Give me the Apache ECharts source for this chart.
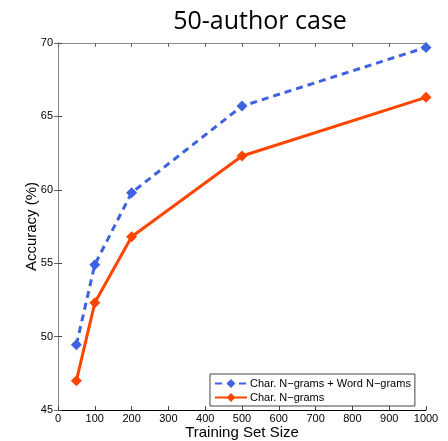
<!DOCTYPE html>
<html>
<head>
<meta charset="utf-8">
<script src="https://cdn.jsdelivr.net/npm/echarts@6/dist/echarts.min.js"></script>
<style>
  html, body { margin: 0; padding: 0; background: #fff; }
  #chart { width: 448px; height: 441px; }
</style>
</head>
<body>
<div id="chart"></div>
<script>
const trainingSizes = [50, 100, 200, 500, 1000]
const charWordAcc = [49.45, 54.9, 59.8, 65.7, 69.7]
const charAcc = [47.0, 52.3, 56.8, 62.3, 66.3]
const seriesNames = ['Char. N\u2212grams + Word N\u2212grams', 'Char. N\u2212grams']

const chart = echarts.init(document.getElementById('chart'))

const tickFont = { color: '#000', fontSize: 11, fontFamily: 'Liberation Sans', formatter: v => String(v) }
const toPairs = ys => trainingSizes.map((x, i) => [x, ys[i]])

const option = {
  animation: false,
  title: {
    text: '50-author case',
    left: 255,
    textAlign: 'center',
    top: 4,
    textStyle: { fontFamily: 'Open Sans', fontSize: 25, fontWeight: 'normal', color: '#000' }
  },
  grid: { left: 58, right: 22, top: 43, bottom: 31, outerBoundsMode: 'none' },
  legend: {
    orient: 'vertical',
    left: 210,
    top: 374,
    width: 211,
    padding: [4, 4, 3, 4],
    itemGap: 3,
    itemWidth: 32,
    itemHeight: 11,
    borderColor: '#444',
    borderWidth: 1,
    backgroundColor: '#fff',
    textStyle: { fontSize: 11, fontFamily: 'Liberation Sans', color: '#000', padding: [0, 0, 0, -2] },
    data: seriesNames
  },
  xAxis: [
    {
      type: 'value',
      min: 0,
      max: 1000,
      interval: 100,
      name: 'Training Set Size',
      nameLocation: 'middle',
      nameGap: 15,
      nameMoveOverlap: false,
      nameTextStyle: { fontSize: 15, fontFamily: 'Liberation Sans', color: '#000' },
      axisLine: { lineStyle: { color: '#000', width: 1 } },
      axisTick: { inside: true, length: 4, lineStyle: { color: '#444' } },
      axisLabel: Object.assign({ margin: 3 }, tickFont),
      splitLine: { show: false }
    },
    {
      type: 'value',
      position: 'top',
      min: 0,
      max: 1000,
      interval: 100,
      axisLine: { lineStyle: { color: '#888', width: 1 } },
      axisTick: { inside: true, length: 4, lineStyle: { color: '#666' } },
      axisLabel: { show: false },
      splitLine: { show: false }
    }
  ],
  yAxis: [
    {
      type: 'value',
      min: 45,
      max: 70,
      interval: 5,
      name: 'Accuracy (%)',
      nameLocation: 'middle',
      nameGap: 19,
      nameMoveOverlap: false,
      nameTextStyle: { fontSize: 15, fontFamily: 'Liberation Sans', color: '#000' },
      axisLine: { show: true, lineStyle: { color: '#000', width: 1 } },
      axisTick: { inside: true, length: 4, lineStyle: { color: '#444' } },
      axisLabel: Object.assign({ margin: 5 }, tickFont),
      splitLine: { show: false }
    },
    {
      type: 'value',
      position: 'right',
      min: 45,
      max: 70,
      interval: 5,
      axisLine: { show: true, lineStyle: { color: '#888', width: 1 } },
      axisTick: { inside: true, length: 4, lineStyle: { color: '#666' } },
      axisLabel: { show: false },
      splitLine: { show: false }
    }
  ],
  series: [
    {
      name: seriesNames[0],
      type: 'line',
      data: toPairs(charWordAcc),
      symbol: 'diamond',
      symbolSize: 11,
      lineStyle: { width: 3, type: [7, 5], color: '#3f63e0' },
      itemStyle: { color: '#3f63e0' },
      z: 3
    },
    {
      name: seriesNames[1],
      type: 'line',
      data: toPairs(charAcc),
      symbol: 'diamond',
      symbolSize: 11,
      lineStyle: { width: 3, color: '#ff4500' },
      itemStyle: { color: '#ff4500' },
      z: 2
    }
  ]
}

chart.setOption(option)
</script>
</body>
</html>
